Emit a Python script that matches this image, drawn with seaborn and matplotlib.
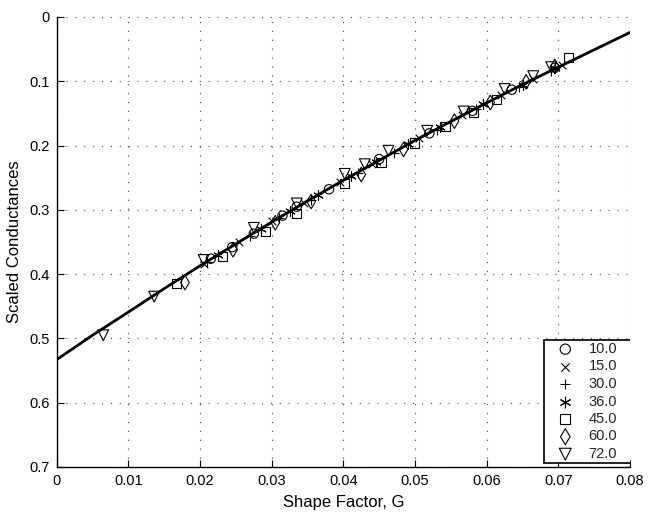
import numpy as np
import pandas as pd
import matplotlib
matplotlib.use("Agg")
import matplotlib.pyplot as plt
from matplotlib.patches import Rectangle
import seaborn as sns

# ---- data ----
angles = ["10.0", "15.0", "30.0", "36.0", "45.0", "60.0", "72.0"]

g_10 = [0.0215, 0.0245, 0.0275, 0.0315, 0.0335, 0.038, 0.045, 0.052, 0.058, 0.0635, 0.0695]
c_10 = [0.376, 0.358, 0.337, 0.309, 0.295, 0.268, 0.221, 0.181, 0.146, 0.113, 0.079]

g_15 = [0.0205, 0.0255, 0.030, 0.0345, 0.0395, 0.044, 0.0505, 0.0565, 0.062, 0.0665, 0.0705]
c_15 = [0.384, 0.350, 0.318, 0.289, 0.256, 0.228, 0.188, 0.153, 0.121, 0.097, 0.074]

g_30 = [0.021, 0.027, 0.031, 0.0355, 0.042, 0.047, 0.053, 0.0585, 0.0645, 0.069]
c_30 = [0.381, 0.340, 0.313, 0.284, 0.242, 0.211, 0.175, 0.143, 0.109, 0.084]

g_36 = [0.0225, 0.0285, 0.0325, 0.0365, 0.041, 0.0445, 0.049, 0.0535, 0.0595, 0.065, 0.0695]
c_36 = [0.370, 0.329, 0.302, 0.277, 0.248, 0.226, 0.198, 0.171, 0.136, 0.105, 0.080]

g_45 = [0.0167, 0.0231, 0.0292, 0.0335, 0.0402, 0.0453, 0.0499, 0.0542, 0.0581, 0.0614, 0.0714]
c_45 = [0.414, 0.373, 0.334, 0.305, 0.259, 0.227, 0.196, 0.171, 0.149, 0.129, 0.063]

g_60 = [0.0179, 0.0246, 0.0305, 0.0355, 0.0425, 0.0484, 0.0555, 0.0605, 0.0655, 0.0695]
c_60 = [0.413, 0.362, 0.320, 0.287, 0.245, 0.206, 0.162, 0.133, 0.101, 0.077]

g_72 = [0.0065, 0.0136, 0.0205, 0.0275, 0.0335, 0.0402, 0.043, 0.0463, 0.0517, 0.0568, 0.0625, 0.0665, 0.069]
c_72 = [0.495, 0.435, 0.378, 0.328, 0.290, 0.244, 0.229, 0.208, 0.177, 0.147, 0.112, 0.092, 0.078]

fit_g = [0.0, 0.005, 0.01, 0.015, 0.02, 0.025, 0.03, 0.035, 0.04, 0.045,
         0.05, 0.055, 0.06, 0.065, 0.07, 0.075, 0.08]
fit_c = [0.533, 0.495, 0.459, 0.4225, 0.387, 0.353, 0.319, 0.286, 0.254, 0.223,
         0.192, 0.1625, 0.1335, 0.105, 0.078, 0.051, 0.024]

x_ticks = [0, 0.01, 0.02, 0.03, 0.04, 0.05, 0.06, 0.07, 0.08]
x_labels = ["0", "0.01", "0.02", "0.03", "0.04", "0.05", "0.06", "0.07", "0.08"]
y_ticks = [0, 0.1, 0.2, 0.3, 0.4, 0.5, 0.6, 0.7]
y_labels = ["0", "0.1", "0.2", "0.3", "0.4", "0.5", "0.6", "0.7"]

series_g = [g_10, g_15, g_30, g_36, g_45, g_60, g_72]
series_c = [c_10, c_15, c_30, c_36, c_45, c_60, c_72]

# ---- style ----
sns.set_theme(style="white")
plt.rcParams["font.family"] = ["Liberation Sans", "DejaVu Sans"]

fig = plt.figure(figsize=(6.55, 5.13), dpi=100)
ax = fig.add_axes([56.7 / 655, 1 - 467 / 513, 573.3 / 655, 450 / 513])

markers = ["o", "x", "+", (6, 2, 0), "s", "d", "v"]
sizes = [45, 30, 48, 48, 42, 55, 60]

fit_df = pd.DataFrame({"G": fit_g, "C": fit_c})
sns.lineplot(data=fit_df, x="G", y="C", ax=ax, color="black", lw=2.0,
             zorder=3, legend=False)

for lab, gv, cv, m, s in zip(angles, series_g, series_c, markers, sizes):
    df = pd.DataFrame({"G": gv, "C": cv})
    unfilled = m in ("x", "+") or isinstance(m, tuple)
    if unfilled:
        sns.scatterplot(data=df, x="G", y="C", ax=ax, marker=m, s=s,
                        color="black", linewidth=0.8, label=lab, zorder=4)
    else:
        sns.scatterplot(data=df, x="G", y="C", ax=ax, marker=m, s=s,
                        facecolor="none", edgecolor="black", linewidth=0.8,
                        label=lab, zorder=4)

ax.set_xlim(0, 0.08)
ax.set_ylim(0.7, 0)
ax.set_xticks(x_ticks)
ax.set_xticklabels(x_labels)
ax.set_yticks(y_ticks)
ax.set_yticklabels(y_labels)

ax.grid(True, color="black", linestyle=(0, (1, 7)), linewidth=0.8, alpha=0.75)
for side in ("top", "right"):
    ax.spines[side].set_visible(False)
for side in ("left", "bottom"):
    ax.spines[side].set_color("black")
    ax.spines[side].set_linewidth(1.0)

ax.tick_params(axis="both", direction="in", length=5, width=0.8, colors="black",
               labelsize=10.5, pad=5, bottom=True, left=True, top=False, right=False)
ax.set_xlabel("Shape Factor, G", fontsize=12, labelpad=5, color="black")
ax.set_ylabel("Scaled Conductances", fontsize=12, labelpad=5, color="black")

# legend (custom frame to match the wide box)
frame = Rectangle(((544 - 56.7) / 573.3, (467 - 463) / 450),
                  (631 - 544) / 573.3, (463 - 340) / 450,
                  transform=ax.transAxes, facecolor="white", edgecolor="black",
                  linewidth=1.2, zorder=5)
ax.add_patch(frame)
leg = ax.legend(loc="upper left",
                bbox_to_anchor=((558 - 56.7) / 573.3, (467 - 342) / 450),
                frameon=False, fontsize=10.5, borderpad=0, borderaxespad=0,
                handlelength=1.0, handletextpad=1.1, labelspacing=0.24,
                markerscale=1.1)
leg.set_zorder(6)

fig.savefig("out.png", dpi=100)
